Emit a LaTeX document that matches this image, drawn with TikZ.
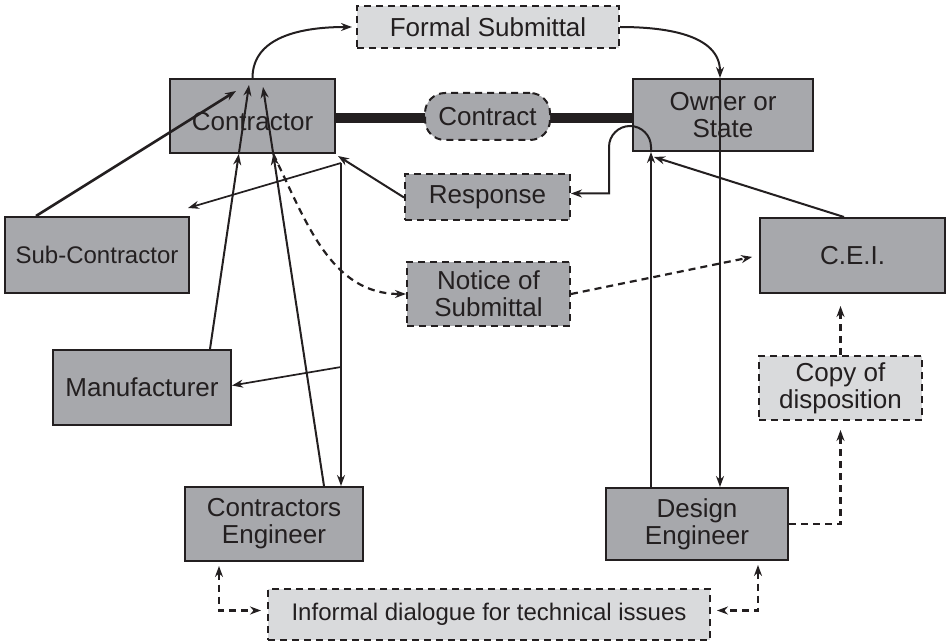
\documentclass[tikz,border=0pt]{standalone}
\usepackage{fontspec}
\setmainfont{Liberation Sans}
\usetikzlibrary{calc, arrows.meta}
\definecolor{boxgray}{RGB}{167,168,172}
\definecolor{palegray}{RGB}{217,218,220}
\definecolor{inkline}{RGB}{35,31,32}

\begin{document}
\begin{tikzpicture}[x=1pt,y=1pt,
    box/.style={draw=inkline, line width=2pt, fill=boxgray, inner sep=0pt, align=center, text=inkline, font=\fontsize{26}{27}\selectfont},
    dashbox/.style={box, dash pattern=on 7pt off 5pt},
    softbox/.style={dashbox, fill=palegray},
    txt/.style={inner sep=0pt, align=center, text=inkline, font=\fontsize{26}{27}\selectfont},
    arr/.style={draw=inkline, line width=2pt, -{Stealth[length=11pt,width=8pt]}},
    dasharr/.style={arr, line width=2.2pt, dash pattern=on 7pt off 5pt},
    dashboth/.style={dasharr, {Stealth[length=11pt,width=8pt]}-{Stealth[length=11pt,width=8pt]}}]
  \useasboundingbox (0,0) rectangle (950,-644);

  % boxes
  \node[box, minimum width=165, minimum height=74] (contr) at (252.5,-116) {};
  \node[box, minimum width=180, minimum height=72] (owner) at (723,-115) {};
  \node[softbox, minimum width=262, minimum height=42] (formal) at (488,-27) {Formal Submittal};
  \draw[line width=10pt, inkline] (contr.east |- 0,-118) -- (425,-118) (550,-118) -- (owner.west |- 0,-118);
  \node[dashbox, rounded corners=20pt, minimum width=125, minimum height=47] (contract) at (487.5,-116.5) {Contract};
  \node[dashbox, minimum width=165, minimum height=46] (response) at (487.5,-197.5) {Response};
  \node[dashbox, minimum width=163, minimum height=64] (notice) at (488.5,-294) {Notice of\\Submittal};
  \node[box, minimum width=184, minimum height=76, font=\fontsize{24}{26}\selectfont] (sub) at (97,-255) {Sub-Contractor};
  \node[box, minimum width=178, minimum height=75] (man) at (142,-387.5) {Manufacturer};
  \node[box, minimum width=178, minimum height=74] (ce) at (274,-524) {Contractors\\Engineer};
  \node[box, minimum width=182, minimum height=72] (de) at (697,-524) {Design\\Engineer};
  \node[box, minimum width=185, minimum height=75] (cei) at (852.5,-255.5) {C.E.I.};
  \node[softbox, minimum width=163, minimum height=64] (copy) at (840.5,-388) {Copy of\\disposition};
  \node[softbox, minimum width=442, minimum height=51, font=\fontsize{24}{26}\selectfont] (informal) at (489,-614.5) {Informal dialogue for technical issues};

  % points on the boxes
  \coordinate (mtop) at ($(man.north west)+(158,0)$);
  \coordinate (mend) at ($(contr.north west)+(80,-7)$);
  \coordinate (mcut) at (intersection of mtop--mend and contr.south west--contr.south east);
  \coordinate (ctop) at ($(ce.north west)+(140,0)$);
  \coordinate (cend) at ($(contr.north west)+(94,-9)$);
  \coordinate (ccut) at (intersection of ctop--cend and contr.south west--contr.south east);
  \coordinate (split) at ($(contr.south east)+(5,-9)$);
  \coordinate (subend) at ($(sub.north east)+(-2,8)$);
  \coordinate (otop) at ($(owner.north west)+(88,0)$);
  \coordinate (oin) at ($(owner.south west)+(19,0)$);

  % submittal and contract
  \draw[arr, shorten >=4pt] (contr.north) to[out=90, in=180] (formal.west);
  \draw[arr] (formal.east) to[out=0, in=90] (otop);
  \draw[arr] (otop) -- (otop |- de.north);
  \draw[dasharr] (ccut) to[out=-64, in=180] (notice.west);
  \draw[dasharr, shorten >=7pt] (notice.east) -- (cei.west);

  % into the contractor
  \draw[arr, line width=2.6pt] ($(sub.north west)+(32,0)$) -- ($(contr.north west)+(67,-13)$);
  \draw[arr] (mtop) -- (mcut);
  \draw[arr] (mcut) -- (mend);
  \draw[arr] (ctop) -- (ccut);
  \draw[arr] (ccut) -- (cend);

  % response and its copies
  \draw[arr] (response.west) -- ($(contr.south east)+(2,-2)$);
  \draw[arr, line width=1.7pt] (split) -- (split |- ce.north);
  \draw[arr, line width=1.7pt] (split) -- (subend);
  \draw[arr, line width=1.7pt] ($(split)+(0,-204)$) -- ($(man.east)+(0,2)$);

  % design engineer and C.E.I.
  \draw[arr] ($(de.north west)+(46,0)$) -- (oin);
  \draw[arr] (oin) -- ++(0,5) arc[start angle=0, end angle=180, radius=21] |- ($(response.east)+(0,4)$);
  \draw[arr] ($(cei.north west)+(85,0)$) -- ($(oin)+(3,-5)$);
  \draw[dasharr, shorten >=9pt] (de.east) -| (copy.south);
  \draw[dasharr, shorten >=12pt] (copy.north) -- (copy.north |- cei.south);

  % informal dialogue
  \draw[dashboth, shorten <=4pt, shorten >=6pt] ($(ce.south west)+(35,0)$) |- ($(informal.west)+(0,4)$);
  \draw[dashboth, shorten <=4pt, shorten >=6pt] ($(de.south west)+(153,0)$) |- ($(informal.east)+(0,4)$);

  % labels over the lines
  \node[txt] (contr-t) at ($(contr)+(0,-6)$) {Contractor};
  \node[txt] (owner-t) at (owner) {Owner or\\State};
\end{tikzpicture}
\end{document}
